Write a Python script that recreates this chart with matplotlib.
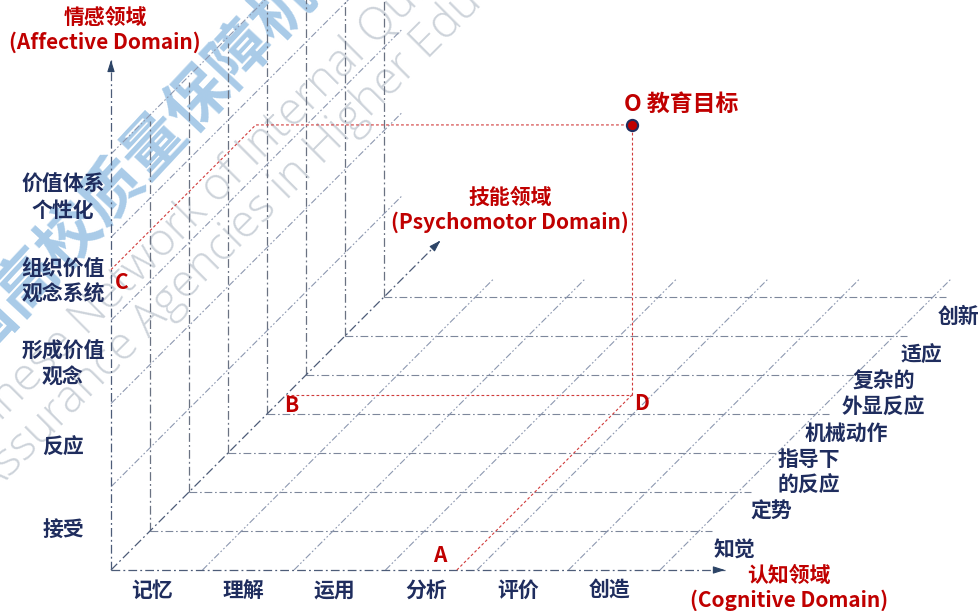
import numpy as np
import matplotlib.pyplot as plt

plt.rcParams['font.family'] = ['Noto Sans CJK SC', 'DejaVu Sans']

### DOMAIN LEVELS ###
cognitive_levels = ['记忆', '理解', '运用', '分析', '评价', '创造']
affective_levels = ['接受', '反应', '形成价值\n观念', '组织价值\n观念系统', '价值体系\n个性化']
psychomotor_levels = ['知觉', '定势', '指导下\n的反应', '机械动作', '复杂的\n外显反应', '适应', '创新']

### THE EXAMPLE GOAL (in level units) ###
A_cog = 3.78   # point A on the cognitive axis
B_psy = 4.5    # point B on the psychomotor axis
O_aff = 3.24   # height of O above D
C_aff = 3.61   # point C on the affective axis

### PROJECTION (oblique, pixels) ###
X0, Y0 = 111, 570
UX, UY, UZ = 91.5, 83.2, 39.0
floor_len = 6.14
wall_len = 4.93
grid_depth = 7.46
cog_axis, aff_axis, psy_axis = 6.71, 6.13, 8.45

navy = '#1f2d5e'
red = '#c00000'
axis_col = '#4d5c78'
wall_col = '#6a7282'
floor_col = '#7d879b'
diag_col = '#8d98b0'
dashdot = (0, (7, 2.5, 1.5, 2.5))
dashdotdot = (0, (6, 2, 1.5, 2, 1.5, 2))


def proj(c, a, p):
    return X0 + c * UX + p * UZ, Y0 - a * UY - p * UZ


def seg(ax, p1, p2, **kw):
    x1, y1 = proj(*p1)
    x2, y2 = proj(*p2)
    ax.plot([x1, x2], [y1, y2], **kw)


def arrow_head(ax, p1, p2):
    x1, y1 = proj(*p1)
    x2, y2 = proj(*p2)
    d = np.array([x2 - x1, y2 - y1])
    d = d / np.hypot(*d)
    ax.annotate('', xy=(x2, y2), xytext=(x2 - 10 * d[0], y2 - 10 * d[1]),
                arrowprops=dict(arrowstyle='-|>,head_length=0.7,head_width=0.22',
                                color='#2c4466', lw=0.8, shrinkA=0, shrinkB=0))


def label(ax, x, y, s, color, size=15, gap=26, weight='heavy', **kw):
    lines = s.split('\n')
    off = (len(lines) - 1) * gap / 2
    for i, line in enumerate(lines):
        ax.text(x, y - off + i * gap, line, color=color, fontsize=size,
                fontweight=weight, ha='center', va='center', **kw)


fig = plt.figure(figsize=(9.79, 6.11), dpi=100)
ax = fig.add_axes([0, 0, 1, 1])
ax.set_xlim(0, 979)
ax.set_ylim(611, 0)
ax.axis('off')

# watermark
ax.text(176, 120, '中国高校质量保障机构联盟', color='#a9cbe8', fontsize=45,
        fontweight='bold', rotation=47, rotation_mode='anchor',
        ha='center', va='center', zorder=0)
ax.text(211, 195, 'Chinese Network of Internal Quality', color='#cdd3da',
        fontsize=33, family='Open Sans', fontweight='light', rotation=45,
        rotation_mode='anchor', ha='center', va='center', zorder=0)
ax.text(273, 197, 'Assurance Agencies in Higher Education', color='#cdd3da',
        fontsize=33, family='Open Sans', fontweight='light', rotation=45,
        rotation_mode='anchor', ha='center', va='center', zorder=0)

# psychomotor layers: floor lines and wall lines
for k in range(1, len(psychomotor_levels) + 1):
    seg(ax, (0, 0, k), (floor_len, 0, k), color=floor_col, lw=0.8, ls=dashdot)
    seg(ax, (0, 0, k), (0, wall_len, k), color=wall_col, lw=0.9, ls=dashdot)

# depth lines from cognitive and affective ticks
for i in range(1, len(cognitive_levels) + 1):
    seg(ax, (i, 0, 0), (i, 0, grid_depth), color=diag_col, lw=0.8, ls=dashdotdot)
for j in range(1, len(affective_levels) + 1):
    seg(ax, (0, j, 0), (0, j, grid_depth), color=diag_col, lw=0.8, ls=dashdotdot)

# main axes
for end in [(cog_axis, 0, 0), (0, aff_axis, 0), (0, 0, psy_axis)]:
    seg(ax, (0, 0, 0), end, color=axis_col, lw=0.9, ls=dashdot)
    arrow_head(ax, (0, 0, 0), end)

# goal construction
C_turn = B_psy - (C_aff - O_aff) * UY / UZ
guide = dict(color='#d03a3a', lw=0.8, ls=(0, (2.5, 2)))
seg(ax, (A_cog, 0, 0), (A_cog, 0, B_psy), **guide)
seg(ax, (0, 0, B_psy), (A_cog, 0, B_psy), **guide)
seg(ax, (A_cog, 0, B_psy), (A_cog, O_aff, B_psy), **guide)
xs, ys = zip(proj(0, C_aff, 0), proj(0, C_aff, C_turn), proj(A_cog, O_aff, B_psy))
ax.plot(xs, ys, **guide)
ox, oy = proj(A_cog, O_aff, B_psy)
ax.scatter([ox], [oy], s=65, color=red, edgecolor=navy, lw=1.5, zorder=5)

# point letters
pt = dict(color=red, fontsize=15, fontweight='heavy', ha='center', va='center')
ax_, ay_ = proj(A_cog, 0, 0)
ax.text(ax_ - 17, ay_ - 14, 'A', **pt)
bx, by = proj(0, 0, B_psy)
ax.text(bx + 5, by + 11, 'B', **pt)
cx, cy = proj(0, C_aff, 0)
ax.text(cx + 11, cy + 13, 'C', **pt)
dx, dy = proj(A_cog, 0, B_psy)
ax.text(dx + 9, dy + 9, 'D', **pt)
ax.text(ox - 8, oy - 21, 'O 教育目标', color=red, fontsize=16.5, fontweight='heavy',
        ha='left', va='center')

# level labels
for i, name in enumerate(cognitive_levels):
    x, y = proj(i + 0.5, 0, 0)
    label(ax, x - 5, y + 20, name, navy)
for j, name in enumerate(affective_levels):
    x, y = proj(0, j + 0.5, 0)
    label(ax, 63, y + 2, name, navy)
for k, name in enumerate(psychomotor_levels):
    x, y = proj(6.6, 0, k + 0.5)
    label(ax, x - 1.7 * k, y, name, navy)

# domain titles
label(ax, 105, 30, '情感领域\n(Affective Domain)', red, gap=25)
label(ax, 510, 210, '技能领域\n(Psychomotor Domain)', red, gap=25)
label(ax, 789, 588, '认知领域\n(Cognitive Domain)', red, gap=25)

fig.savefig('out.png', dpi=100)
